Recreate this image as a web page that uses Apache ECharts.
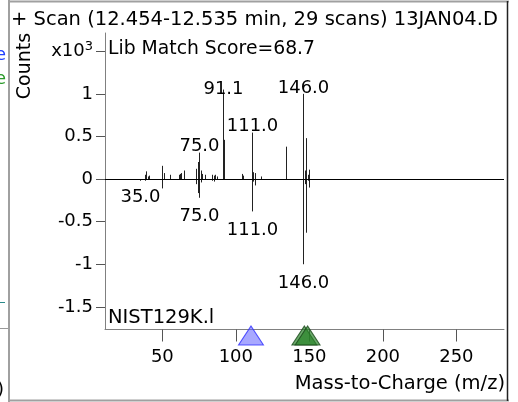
<!DOCTYPE html>
<html>
<head>
<meta charset="utf-8">
<script src="https://cdn.jsdelivr.net/npm/echarts@6/dist/echarts.min.js"></script>
<style>
  html, body { margin: 0; padding: 0; background: #fff; }
  #spec { width: 518px; height: 402px; }
</style>
</head>
<body>
<div id="spec"></div>
<script>
// counts are in x10^3
const sampleMz = [38, 39, 40, 41, 50, 51, 55, 61, 62, 63, 65, 73, 74, 75, 76, 77, 79, 84, 85, 86, 87, 91.1, 92, 104, 105, 111, 112, 113, 117, 134, 146, 147, 148, 149, 150];
const sampleCounts = [0.05, 0.09, 0.03, 0.04, 0.155, 0.07, 0.05, 0.05, 0.06, 0.07, 0.1, 0.12, 0.2, 0.31, 0.1, 0.06, 0.05, 0.05, 0.04, 0.05, 0.03, 1.05, 0.46, 0.06, 0.04, 0.545, 0.08, 0.07, 0.03, 0.38, 1.0, 0.1, 0.48, 0.05, 0.11];
const libMz = [35, 37, 38, 50, 73, 74, 75, 76, 84, 85, 111, 112, 113, 146, 147, 148, 149, 150];
const libCounts = [-0.02, -0.01, -0.02, -0.11, -0.06, -0.165, -0.22, -0.04, -0.02, -0.03, -0.38, -0.03, -0.075, -1.0, -0.06, -0.63, -0.02, -0.1];
const sampleLabels = [75, 91.1, 111, 146];
const libLabels = [35, 75, 111, 146];
const xTicks = [50, 100, 150, 200, 250];
const yTicks = [-1.5, -1, -0.5, 0, 0.5, 1, 1.5];
const blueMarks = [110.3];
const greenMarks = [146.6, 148.8];

const FONT = "DejaVu Sans";
const TXT = "19.5px " + FONT;

function peaks(mz, counts, labels) {
  return mz.map((m, i) => [m, counts[i], labels.indexOf(m) >= 0 ? 1 : 0]);
}

function renderPeak(params, api) {
  const m = api.value(0), v = api.value(1), lab = api.value(2);
  const p0 = api.coord([m, 0]);
  const p1 = api.coord([m, v]);
  const x = Math.round(p0[0]) + 0.5;
  const kids = [{
    type: "line",
    shape: { x1: x, y1: p0[1], x2: x, y2: p1[1] },
    style: { stroke: "#222", lineWidth: 1 }
  }];
  if (lab) {
    const up = v > 0;
    let off = up ? -3 : 10;
    if (m === 91.1) off = -9;
    if (m === 35) off = 8;
    kids.push({
      type: "text",
      style: {
        text: m.toFixed(1),
        x: x,
        y: up ? p1[1] - off : p1[1] + off,
        align: "center",
        verticalAlign: up ? "bottom" : "top",
        font: "18px " + FONT,
        fill: "#000"
      }
    });
  }
  return { type: "group", children: kids };
}

const chart = echarts.init(document.getElementById("spec"));

chart.setOption({
  animation: false,
  grid: { left: 105, right: 14, top: 33, bottom: 72.5 },
  xAxis: {
    type: "value",
    min: 11,
    max: 282.4,
    axisLine: { onZero: false, lineStyle: { color: "#808080" } },
    axisTick: { length: 12, customValues: xTicks, lineStyle: { color: "#555" } },
    axisLabel: { customValues: xTicks, margin: 19, fontSize: 18, fontFamily: FONT, color: "#000" },
    splitLine: { show: false }
  },
  yAxis: {
    type: "value",
    min: -1.766,
    max: 1.714,
    axisLine: { show: true, lineStyle: { color: "#808080" } },
    axisTick: { show: true, length: 9, customValues: yTicks, lineStyle: { color: "#555" } },
    axisLabel: {
      customValues: yTicks,
      margin: 12,
      fontSize: 18,
      fontFamily: FONT,
      color: "#000",
      formatter: function (v) {
        if (v === 1.5) return "{a|x10}{b|3}";
        return String(v);
      },
      rich: {
        a: { fontSize: 18, fontFamily: FONT, color: "#000" },
        b: { fontSize: 13, fontFamily: FONT, color: "#000", padding: [0, 0, 10, 0] }
      }
    },
    splitLine: { show: false }
  },
  series: [
    {
      type: "custom",
      renderItem: renderPeak,
      data: peaks(sampleMz, sampleCounts, sampleLabels),
      clip: false,
      markLine: {
        silent: true,
        symbol: "none",
        label: { show: false },
        lineStyle: { color: "#000", width: 1, type: "solid" },
        data: [{ yAxis: 0 }]
      }
    },
    {
      type: "custom",
      renderItem: renderPeak,
      data: peaks(libMz, libCounts, libLabels),
      clip: false
    },
    {
      type: "scatter",
      symbol: "triangle",
      symbolSize: [25, 19],
      symbolOffset: [0, 6],
      clip: false,
      data: blueMarks.map(m => [m, -1.766]),
      itemStyle: { color: "rgba(100,100,255,0.7)", borderColor: "#3030ff", borderWidth: 1 }
    },
    {
      type: "scatter",
      symbol: "triangle",
      symbolSize: [25, 19],
      symbolOffset: [0, 6],
      clip: false,
      data: greenMarks.map(m => [m, -1.766]),
      itemStyle: { color: "rgba(40,130,40,0.85)", borderColor: "#1a4a1a", borderWidth: 1 }
    }
  ],
  graphic: [
    { type: "line", shape: { x1: 9, y1: 0, x2: 9, y2: 402 }, style: { stroke: "#a0a0a0", lineWidth: 2 } },
    { type: "line", shape: { x1: 9, y1: 1.5, x2: 509, y2: 1.5 }, style: { stroke: "#a0a0a0", lineWidth: 2 } },
    { type: "line", shape: { x1: 9, y1: 400.5, x2: 509, y2: 400.5 }, style: { stroke: "#a0a0a0", lineWidth: 2 } },
    { type: "line", shape: { x1: 507.5, y1: 1, x2: 507.5, y2: 401 }, style: { stroke: "#222", lineWidth: 1.5 } },
    { type: "text", x: 11, y: 20, style: { text: "+ Scan (12.454-12.535 min, 29 scans) 13JAN04.D", font: TXT, fill: "#000", verticalAlign: "middle" } },
    { type: "text", x: 108, y: 49, style: { text: "Lib Match Score=68.7", font: "18.8px " + FONT, fill: "#000", verticalAlign: "middle" } },
    { type: "text", x: 108, y: 318, style: { text: "NIST129K.l", font: TXT, fill: "#000", verticalAlign: "middle" } },
    { type: "text", x: 505, y: 384, style: { text: "Mass-to-Charge (m/z)", font: TXT, fill: "#000", align: "right", verticalAlign: "middle" } },
    { type: "text", x: 25, y: 66, rotation: Math.PI / 2, style: { text: "Counts", font: "19px " + FONT, fill: "#000", align: "center", verticalAlign: "middle" } },
    { type: "text", x: -5, y: 55, style: { text: "e", font: "18px " + FONT, fill: "#2040ff", verticalAlign: "middle" } },
    { type: "text", x: -5, y: 79, style: { text: "e", font: "18px " + FONT, fill: "#2a9a2a", verticalAlign: "middle" } },
    { type: "line", shape: { x1: 0, y1: 302.5, x2: 5, y2: 302.5 }, style: { stroke: "#2a8a8a", lineWidth: 1 } },
    { type: "line", shape: { x1: 0, y1: 328.5, x2: 8, y2: 328.5 }, style: { stroke: "#999", lineWidth: 1 } },
    { type: "text", x: -3, y: 390, style: { text: ")", font: "18px " + FONT, fill: "#000", verticalAlign: "middle" } }
  ]
});

window.addEventListener("resize", function () {
  chart.resize();
});
</script>
</body>
</html>
